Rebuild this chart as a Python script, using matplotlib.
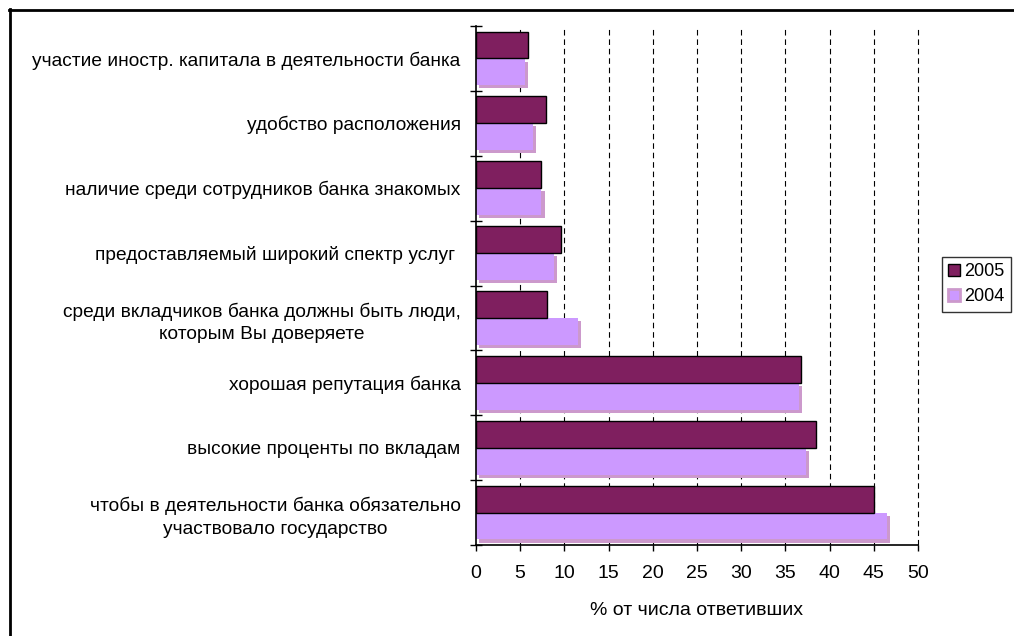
import matplotlib.pyplot as plt
import matplotlib.patheffects as pe
from matplotlib.lines import Line2D
from matplotlib.patches import Patch
import numpy as np

plt.rcParams['font.family'] = ['Liberation Sans', 'DejaVu Sans']

# reasons for choosing a bank, top to bottom
categories = [
    'участие иностр. капитала в деятельности банка',
    'удобство расположения',
    'наличие среди сотрудников банка знакомых',
    'предоставляемый широкий спектр услуг ',
    'среди вкладчиков банка должны быть люди,\nкоторым Вы доверяете',
    'хорошая репутация банка',
    'высокие проценты по вкладам',
    'чтобы в деятельности банка обязательно\nучаствовало государство',
]
share_2005 = [5.9, 7.9, 7.3, 9.6, 8.0, 36.8, 38.5, 45.0]
share_2004 = [5.5, 6.4, 7.4, 8.8, 11.5, 36.5, 37.3, 46.5]
x_ticks = list(range(0, 55, 5))

c2005 = '#7f1f5f'
c2004 = '#cc99ff'
c2004_shadow = '#cc99cc'

fig = plt.figure(figsize=(10.14, 6.36), dpi=100)
ax = fig.add_axes([0.4694, 0.1431, 0.4359, 0.8160])

n = len(categories)
pos = np.arange(n)
h = 0.415

# light bars get a pinkish drop shadow
shadow = [pe.SimplePatchShadow(offset=(2.4, -2.2), shadow_rgbFace=c2004_shadow, alpha=1.0), pe.Normal()]

ax.barh(pos - h / 2, share_2005, height=h, color=c2005, edgecolor='black', linewidth=1.0, zorder=3)
bars04 = ax.barh(pos + h / 2, share_2004, height=h, color=c2004, edgecolor='none', zorder=2.5)
for b in bars04:
    b.set_path_effects(shadow)

ax.set_xlim(0, 50)
ax.set_ylim(n - 0.5, -0.5)

ax.set_xticks(x_ticks)
ax.set_xticklabels([str(t) for t in x_ticks], fontsize=14)
ax.tick_params(axis='x', direction='out', length=4.5, width=1, pad=10)

ax.set_yticks(pos)
ax.set_yticklabels(categories, fontsize=13.8, multialignment='center', linespacing=1.45)
ax.tick_params(axis='y', which='major', length=0, pad=11)
ax.set_yticks(np.arange(-0.5, n, 1.0), minor=True)
ax.tick_params(axis='y', which='minor', direction='inout', length=8, width=1)

for t in x_ticks[1:]:
    ax.axvline(t, color='black', linewidth=0.8, linestyle=(0, (5, 3.5)), zorder=1, clip_on=False)

ax.spines['top'].set_visible(False)
ax.spines['right'].set_visible(False)
ax.spines['left'].set_linewidth(1.2)
ax.spines['bottom'].set_linewidth(1.2)

ax.set_xlabel('% от числа ответивших', fontsize=14, labelpad=14)

handles = [
    Patch(facecolor=c2005, edgecolor='black', linewidth=1.0, label='2005'),
    Patch(facecolor=c2004, edgecolor=c2004_shadow, linewidth=2.0, label='2004'),
]
leg = fig.legend(handles=handles, loc='upper left', bbox_to_anchor=(0.929, 0.596),
                 fontsize=13, frameon=True, fancybox=False, edgecolor='black',
                 handlelength=0.65, handleheight=0.65, handletextpad=0.25,
                 borderpad=0.35, labelspacing=0.45, borderaxespad=0)
leg.get_frame().set_linewidth(1.0)

# outer frame (top and left edges)
fig.add_artist(Line2D([9 / 1014, 1.0], [1 - 9.5 / 636] * 2, transform=fig.transFigure, color='black', linewidth=2))
fig.add_artist(Line2D([9.5 / 1014] * 2, [0.0, 1 - 9 / 636], transform=fig.transFigure, color='black', linewidth=2))

fig.savefig('out.png', dpi=100)
